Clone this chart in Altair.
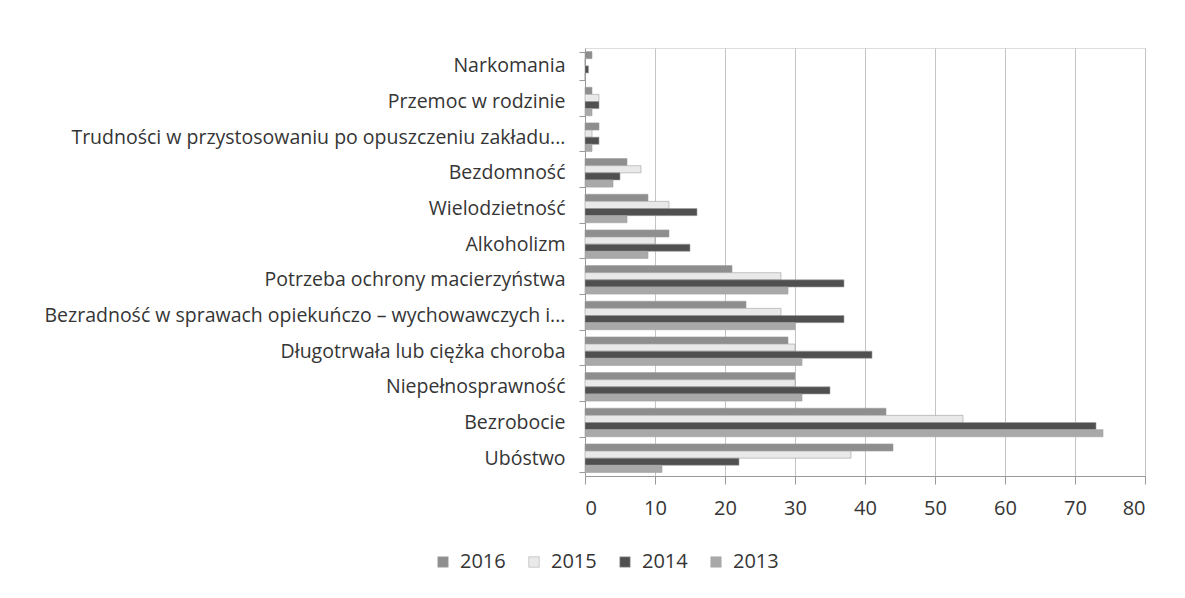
import altair as alt
import pandas as pd

categories = [
    "Narkomania",
    "Przemoc w rodzinie",
    "Trudności w przystosowaniu po opuszczeniu zakładu...",
    "Bezdomność",
    "Wielodzietność",
    "Alkoholizm",
    "Potrzeba ochrony macierzyństwa",
    "Bezradność w sprawach opiekuńczo – wychowawczych i...",
    "Długotrwała lub ciężka choroba",
    "Niepełnosprawność",
    "Bezrobocie",
    "Ubóstwo",
]
years = ["2016", "2015", "2014", "2013"]
v2016 = [1, 1, 2, 6, 9, 12, 21, 23, 29, 30, 43, 44]
v2015 = [0, 2, 1, 8, 12, 10, 28, 28, 30, 30, 54, 38]
v2014 = [0.5, 2, 2, 5, 16, 15, 37, 37, 41, 35, 73, 22]
v2013 = [0, 1, 1, 4, 6, 9, 29, 30, 31, 31, 74, 11]
x_ticks = [0, 10, 20, 30, 40, 50, 60, 70, 80]
colors = ["#8e8e8e", "#e9e9e9", "#505050", "#a9a9a9"]

series = {"2016": v2016, "2015": v2015, "2014": v2014, "2013": v2013}
rows = []
for y in years:
    for c, v in zip(categories, series[y]):
        rows.append({"kategoria": c, "rok": y, "wartosc": v})
df = pd.DataFrame(rows)

font = "Open Sans"

chart = (
    alt.Chart(df)
    .mark_bar(stroke="#a0a0a0", strokeWidth=0.6)
    .encode(
        y=alt.Y(
            "kategoria:N",
            sort=categories,
            scale=alt.Scale(paddingInner=0.2, paddingOuter=0.1),
            axis=alt.Axis(
                title=None,
                labelFont=font,
                labelFontSize=19.5,
                labelColor="#353535",
                labelLimit=700,
                labelPadding=14,
                tickSize=6,
                tickBand="extent",
                tickColor="#999999",
                domainColor="#999999",
                grid=False,
            ),
        ),
        yOffset=alt.YOffset("rok:N", sort=years, scale=alt.Scale(paddingInner=0, paddingOuter=0)),
        x=alt.X(
            "wartosc:Q",
            scale=alt.Scale(domain=[0, 80], nice=False),
            axis=alt.Axis(
                title=None,
                values=x_ticks,
                labelFont=font,
                labelFontSize=20,
                labelColor="#353535",
                labelPadding=14,
                tickSize=8,
                tickColor="#999999",
                domainColor="#999999",
                grid=True,
                gridColor="#c4c4c4",
                gridWidth=1,
            ),
        ),
        color=alt.Color(
            "rok:N",
            sort=years,
            scale=alt.Scale(domain=years, range=colors),
            legend=alt.Legend(
                title=None,
                orient="none",
                direction="horizontal",
                legendX=-152,
                legendY=504,
                symbolType="square",
                symbolSize=110,
                symbolStrokeColor="#b0b0b0",
                symbolStrokeWidth=0.6,
                labelFont=font,
                labelFontSize=20,
                labelColor="#353535",
                columnPadding=18,
                labelOffset=7,
            ),
        ),
    )
    .properties(
        width=560,
        height=428,
        autosize=alt.AutoSizeParams(type="none"),
        padding={"left": 577, "top": 40, "right": 30, "bottom": 110},
    )
    .configure_view(stroke=None)
    .configure(background="white")
)

chart.save("out.html", embed_options={"renderer": "svg", "actions": False})
